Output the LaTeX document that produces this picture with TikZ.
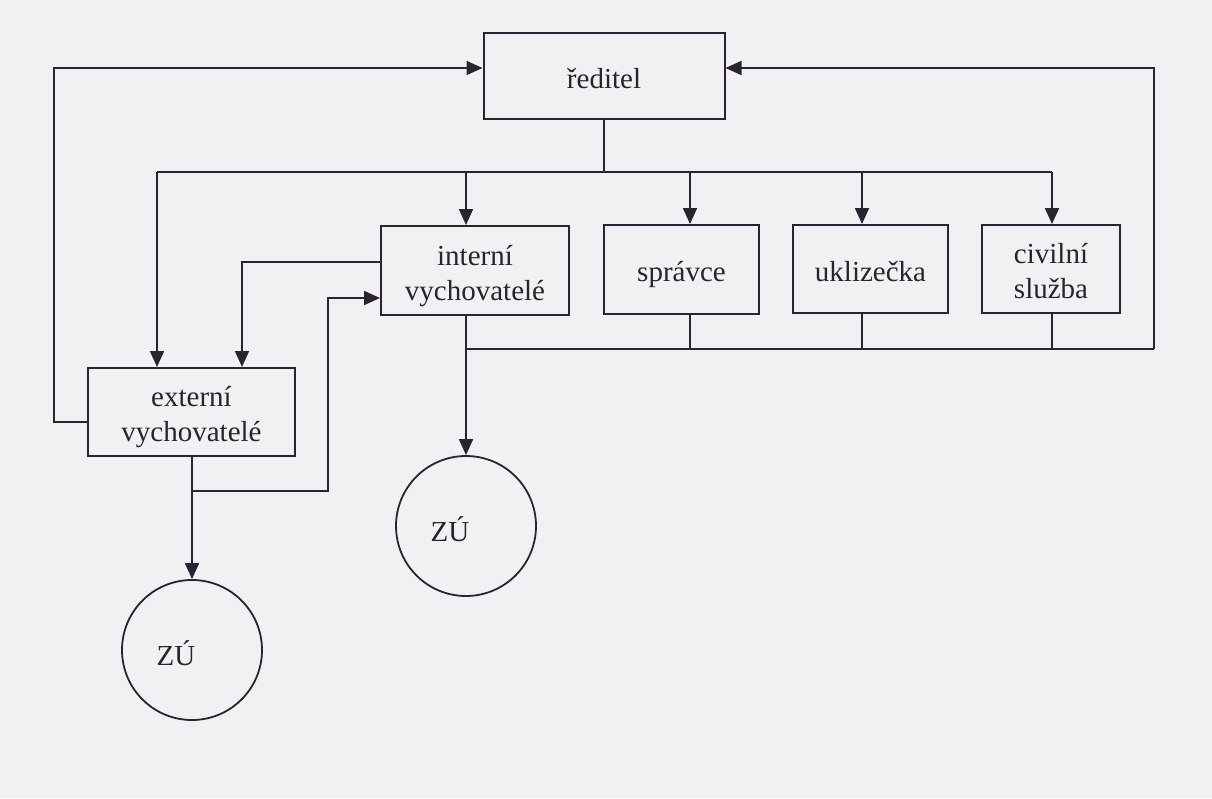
\documentclass[tikz,border=0pt]{standalone}
\usepackage{fontspec}
\setmainfont{Liberation Serif}
\usetikzlibrary{arrows.meta,calc}
\definecolor{ink}{RGB}{42,36,48}
\definecolor{paper}{RGB}{241,241,243}
\definecolor{txt}{RGB}{40,36,42}
\newcommand{\boxtext}[1]{\raisebox{-5pt}[\height][\depth]{\begin{tabular}{@{}c@{}}#1\end{tabular}}}
\begin{document}
\begin{tikzpicture}[x=1pt,y=-1pt,
  box/.style={draw=ink,line width=2pt,inner sep=0pt,align=center,text=txt,
    font=\fontsize{29}{35}\selectfont},
  zu/.style={draw=ink,line width=1.8pt,circle,inner sep=0pt,minimum size=140pt},
  zulabel/.style={text=txt,font=\fontsize{29}{35}\selectfont},
  conn/.style={draw=ink,line width=1.8pt},
  arr/.style={conn,-{Triangle[length=16pt,width=14pt]}}]
\fill[paper] (0,0) rectangle (1212,798);
\useasboundingbox (0,0) rectangle (1212,798);

% nodes
\node[box,minimum width=241pt,minimum height=86pt] (red) at (604,76) {\boxtext{ředitel}};
\node[box,minimum width=188pt,minimum height=89pt] (int) at (475,270.5) {\boxtext{interní\\vychovatelé}};
\node[box,minimum width=155pt,minimum height=89pt] (spr) at (681.5,269.5) {\boxtext{správce}};
\node[box,minimum width=155pt,minimum height=88pt] (ukl) at (870.5,269) {\boxtext{uklizečka}};
\node[box,minimum width=138pt,minimum height=88pt] (civ) at (1051,269) {\boxtext{civilní\\služba}};
\node[box,minimum width=207pt,minimum height=88pt] (ext) at (191.5,412) {\boxtext{externí\\vychovatelé}};
\node[zu,label={[zulabel,xshift=-16pt,yshift=-3pt]center:ZÚ}] (z1) at (466,526) {};
\node[zu,label={[zulabel,xshift=-16pt,yshift=-3pt]center:ZÚ}] (z2) at (192,650) {};

% top distribution bus
\coordinate (tbl) at (157,172);
\coordinate (tbr) at (1052,172);
\coordinate (tbm) at (red.south |- tbl);
\coordinate (ti) at (466,172);
\coordinate (ts) at (690,172);
\coordinate (tu) at (862,172);
\draw[conn] (red.south) -- (tbm);
\draw[conn] (tbl) -- (tbr);
\draw[arr] (tbl) -- (tbl |- ext.north);
\draw[arr] (ti) -- (ti |- int.north);
\draw[arr] (ts) -- (ts |- spr.north);
\draw[arr] (tu) -- (tu |- ukl.north);
\draw[arr] (tbr) -- (tbr |- civ.north);

% bottom collecting bus and right feedback
\coordinate (bi) at (466,349);
\coordinate (bs) at (690,349);
\coordinate (bu) at (862,349);
\coordinate (bc) at (1052,349);
\coordinate (br) at (1154,349);
\coordinate (rt) at (1154,68);
\draw[conn] (bs |- spr.south) -- (bs);
\draw[conn] (bu |- ukl.south) -- (bu);
\draw[conn] (bc |- civ.south) -- (bc);
\draw[conn] (bi) -- (br);
\draw[arr] (br) -- (rt) -- (rt -| red.east);
\draw[arr] (bi |- int.south) -- (bi |- z1.north);

% left feedback
\coordinate (le) at (54,422);
\coordinate (lt) at (54,68);
\draw[arr] (le -| ext.west) -- (le) -- (lt) -- (lt -| red.west);

% interni -> externi
\coordinate (fa) at (242,262);
\draw[arr] (fa -| int.west) -- (fa) -- (fa |- ext.north);

% externi -> ZU and -> interni
\coordinate (es) at (192,491);
\coordinate (eb) at (328,491);
\coordinate (et) at (328,298);
\draw[arr] (es |- ext.south) -- (es |- z2.north);
\draw[arr] (es) -- (eb) -- (et) -- (et -| int.west);
\end{tikzpicture}
\end{document}
